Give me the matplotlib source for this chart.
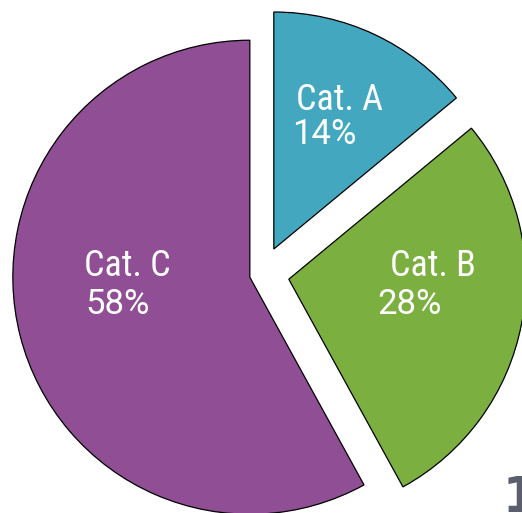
import matplotlib
matplotlib.use("Agg")
import matplotlib.pyplot as plt

# data
categories = ["Cat. A", "Cat. B", "Cat. C"]
shares = [14, 28, 58]
colors = ["#43A8BF", "#7BAF40", "#904E95"]
explode = [0.117, 0.115, 0.053]

W, H = 522, 513
R_PX = 237.0          # pie radius in pixels
CX, CY = 262.0, 274.1  # pie centre in pixels (from top-left)

fig = plt.figure(figsize=(W / 100, H / 100), dpi=100)
ax = fig.add_axes([0, 0, 1, 1])

wedges, _ = ax.pie(shares, colors=colors, explode=explode, startangle=90,
                   counterclock=False, radius=1.0,
                   wedgeprops=dict(edgecolor="black", linewidth=0.9))

ax.set_xlim(-CX / R_PX, (W - CX) / R_PX)
ax.set_ylim((CY - H) / R_PX, CY / R_PX)
ax.set_aspect("auto")
ax.axis("off")

name_font = ["Roboto Condensed", "Roboto", "DejaVu Sans"]
pct_font = ["Roboto", "DejaVu Sans"]

# label positions in pixels: (x name, y name baseline, x pct, y pct baseline)
label_pos = [
    (296, 110, 292, 143.5),
    (390, 276, 377, 314),
    (84, 276, 85, 314),
]

for cat, val, (xn, yn, xp, yp) in zip(categories, shares, label_pos):
    ax.text(xn / W, 1 - yn / H, cat, transform=ax.transAxes, color="white",
            fontsize=26, family=name_font, fontstretch="condensed",
            ha="left", va="baseline")
    ax.text(xp / W, 1 - yp / H, f"{val}%", transform=ax.transAxes,
            color="white", fontsize=25, family=pct_font,
            ha="left", va="baseline")

# partial figure number cut off at the corner
ax.text(503 / W, 1 - 512 / H, "1", transform=ax.transAxes, color="#5B5E6C",
        fontsize=35, fontweight="bold", family="DejaVu Sans", ha="left",
        va="baseline")

fig.savefig("out.png", dpi=100)
